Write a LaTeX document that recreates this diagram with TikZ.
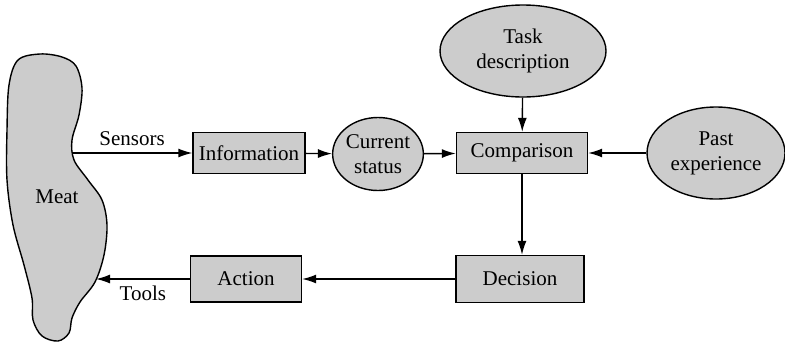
\documentclass[tikz,border=0pt]{standalone}
\usepackage{fontspec}
\setmainfont{LiberationSerif}[Extension=.ttf, UprightFont=*-Regular, BoldFont=*-Bold]
\usetikzlibrary{shapes.geometric, arrows.meta, positioning, calc}

\begin{document}
\begin{tikzpicture}[x=0.5pt, y=-0.5pt,
    font=\rmfamily\fontsize{10.5}{12.5}\selectfont,
    box/.style={draw, fill=black!20, line width=0.7pt, inner sep=0pt},
    blob/.style={ellipse, draw, fill=black!20, line width=0.7pt, inner sep=0pt, align=center},
    flow/.style={-{Latex[length=7pt,width=4.5pt]}, line width=0.7pt}]
\useasboundingbox (0,0) rectangle (785,343);

% The meat
\draw[line width=0.7pt, fill=black!20] plot[smooth cycle, tension=0.55] coordinates {
    (40,54) (62,57) (76,66) (82,88) (79,115) (72,140) (74,160) (88,180)
    (102,200) (107,225) (104,255) (95,282) (80,302) (72,318) (69,333)
    (58,341) (42,336) (33,320) (32,298) (24,265) (13,225) (7,180)
    (7,130) (9,85) (18,60)};
\node (meat) at (57,197) {Meat};
\coordinate (sensor) at (72,153);
\coordinate (tool) at (96,279);

% Boxes
\node[box, minimum width=56pt, minimum height=20.5pt] (info) at (249,153) {Information};
\node[box, minimum width=65.5pt, minimum height=20.5pt] (comp) at (522,153) {Comparison};
\node[box, minimum width=64pt, minimum height=23.5pt] (dec) at (520,279) {Decision};
\node[box, minimum width=55.5pt, minimum height=23pt] (act) at (246,279) {Action};

% Ellipses
\node[blob, minimum width=43.5pt, minimum height=36.5pt] (cur) at (378,154) {Current\\status};
\node[blob, minimum width=83pt, minimum height=46pt] (task) at (523,51) {Task\\description};
\node[blob, minimum width=69pt, minimum height=46pt] (past) at (716,153) {Past\\experience};

% Arrows
\draw[flow] (sensor) -- node[above] {Sensors} (info);
\draw[flow] (info) -- (cur);
\draw[flow] (cur) -- (comp);
\draw[flow] (task) -- (comp);
\draw[flow] (past) -- (comp);
\draw[flow] (comp.south) -- (comp.south |- dec.north);
\draw[flow] (dec) -- (act);
\draw[flow] (act) -- node[below] {Tools} (tool);
\end{tikzpicture}
\end{document}
